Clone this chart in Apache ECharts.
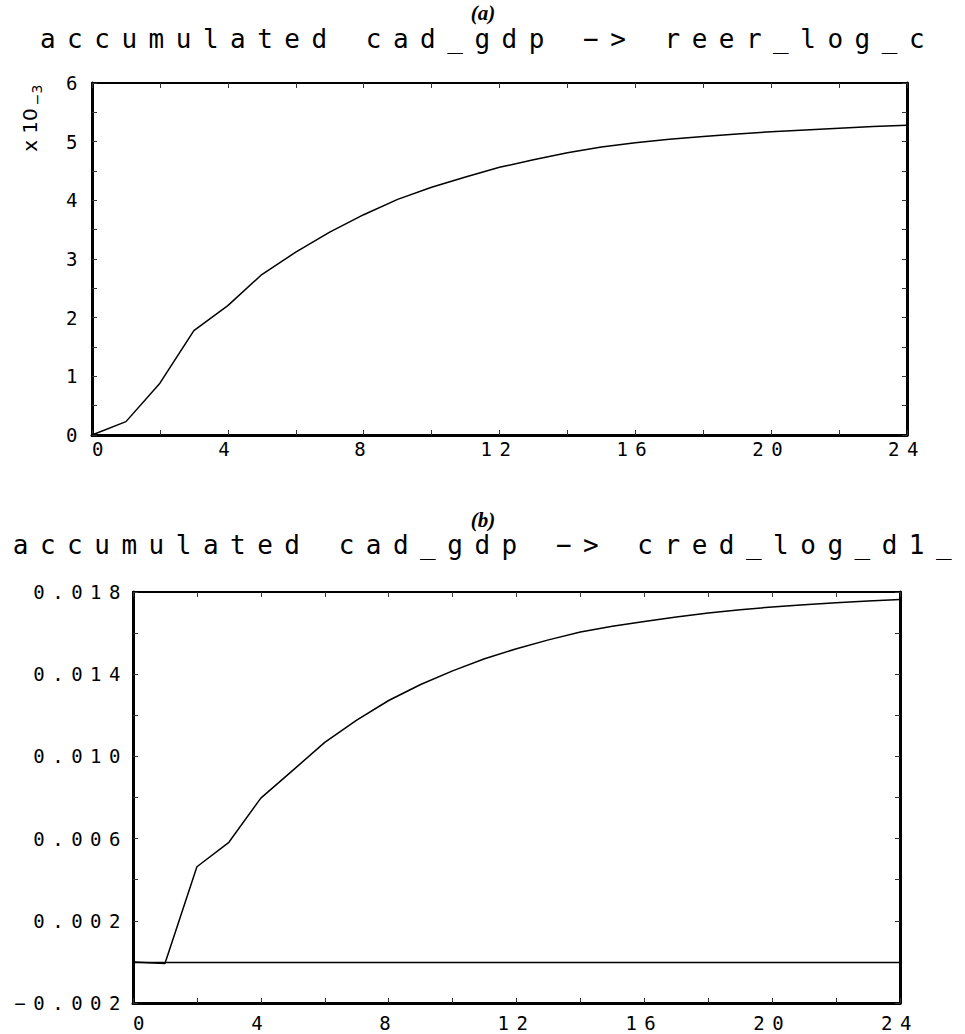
<!DOCTYPE html>
<html>
<head>
<meta charset="utf-8">
<script src="https://cdn.jsdelivr.net/npm/echarts@6.0.0/dist/echarts.min.js"></script>
<style>
    html, body { margin: 0; padding: 0; background: #fff; }
    #main { width: 965px; height: 1034px; }
    /* the plotter font is spread wide */
    #main text[style*="19px"] { letter-spacing: 7.5px; }
    #main text[style*="26px"] { letter-spacing: 11.5px; }
</style>
</head>
<body>
<div id="main"></div>
<script>
var steps = [0, 1, 2, 3, 4, 5, 6, 7, 8, 9, 10, 11, 12, 13, 14, 15, 16, 17, 18, 19, 20, 21, 22, 23, 24];
// (a) reer_log_c response, in units of 10^-3
var reerVals = [0, 0.228, 0.883, 1.78, 2.205, 2.735, 3.117, 3.459, 3.755, 4.017, 4.222, 4.399, 4.564,
    4.69, 4.81, 4.91, 4.98, 5.04, 5.09, 5.13, 5.17, 5.20, 5.23, 5.26, 5.28];
// (b) cred_log_d1_ response
var credVals = [0, -0.00008, 0.00463, 0.00582, 0.00797, 0.00932, 0.01068, 0.01176, 0.01272, 0.01350,
    0.01416, 0.01475, 0.01524, 0.01567, 0.01605, 0.01633, 0.01657, 0.01678, 0.01698, 0.01714,
    0.01727, 0.01738, 0.01748, 0.01756, 0.01763];
var xTickLabels = ['0', '4', '8', '12', '16', '20', '24'];
var reerTickLabels = ['0', '1', '2', '3', '4', '5', '6'];
var credTickLabels = ['\u22120.002', '0.002', '0.006', '0.010', '0.014', '0.018'];
var titleA = 'accumulated cad_gdp \u2212> reer_log_c';
var titleB = 'accumulated cad_gdp \u2212> cred_log_d1_';

var ink = '#000';
var monoFont = 'DejaVu Sans Mono';

function points(vals) {
    var out = [];
    for (var i = 0; i < steps.length; i++) {
        out.push([steps[i], vals[i]]);
    }
    return out;
}

function stepAxis(gridIndex, pos, lineW, margin) {
    return {
        type: 'value',
        gridIndex: gridIndex,
        position: pos,
        min: 0,
        max: 24,
        interval: 2,
        axisLine: {show: true, onZero: false, lineStyle: {color: ink, width: lineW}},
        axisTick: {show: true, inside: true, length: 5, lineStyle: {color: '#333', width: 1}},
        splitLine: {show: false},
        axisLabel: {
            show: pos == 'bottom',
            margin: margin,
            color: ink,
            fontFamily: monoFont,
            fontSize: 19,
            alignMinLabel: 'left',
            formatter: function (v) {
                var s = String(Math.round(v));
                return xTickLabels.indexOf(s) >= 0 ? s : '';
            }
        }
    };
}

function levelAxis(gridIndex, pos, min, max, interval, fmt, margin) {
    return {
        type: 'value',
        gridIndex: gridIndex,
        position: pos,
        min: min,
        max: max,
        interval: interval,
        axisLine: {show: true, onZero: false, lineStyle: {color: ink, width: 3}},
        axisTick: {show: true, inside: true, length: 5, lineStyle: {color: '#333', width: 1}},
        splitLine: {show: false},
        axisLabel: {
            show: pos == 'left',
            margin: margin,
            color: ink,
            fontFamily: monoFont,
            fontSize: 19,
            formatter: fmt
        }
    };
}

function reerLabel(v) {
    var s = String(Math.round(v));
    return (Math.abs(v - Math.round(v)) < 1e-6 && reerTickLabels.indexOf(s) >= 0) ? s : '';
}

function credLabel(v) {
    var s = v.toFixed(3).replace('-', '\u2212');
    return credTickLabels.indexOf(s) >= 0 ? s : '';
}

function panelTag(text, y) {
    return {
        type: 'text', x: 483, y: y,
        style: {
            text: text, fill: ink, font: 'italic bold 21px "Liberation Serif"',
            textAlign: 'center', textVerticalAlign: 'middle'
        }
    };
}

function heading(text, y) {
    return {
        type: 'text', x: 488, y: y,
        style: {
            text: text, fill: ink, fontSize: 26, fontFamily: monoFont,
            textAlign: 'center', textVerticalAlign: 'middle'
        }
    };
}

var Chart = echarts.init(document.getElementById('main'), null, {renderer: 'svg'});
var option_irf = {
    animation: false,
    backgroundColor: '#fff',
    grid: [
        {left: 92, right: 58, top: 83, height: 352},
        {left: 133, right: 65, top: 592, height: 411}
    ],
    xAxis: [
        stepAxis(0, 'bottom', 3, 4),
        stepAxis(0, 'top', 2, 4),
        stepAxis(1, 'bottom', 3, 10),
        stepAxis(1, 'top', 2, 10)
    ],
    yAxis: [
        levelAxis(0, 'left', 0, 6, 0.5, reerLabel, 7),
        levelAxis(0, 'right', 0, 6, 0.5, reerLabel, 7),
        levelAxis(1, 'left', -0.002, 0.018, 0.002, credLabel, 5),
        levelAxis(1, 'right', -0.002, 0.018, 0.002, credLabel, 5)
    ],
    graphic: [
        panelTag('(a)', 13),
        heading(titleA, 39),
        {
            type: 'text', x: 30, y: 130, rotation: Math.PI / 2,
            style: {text: 'x 10', fill: ink, fontSize: 20, fontFamily: 'DejaVu Sans', textAlign: 'center', textVerticalAlign: 'middle'}
        },
        {
            type: 'text', x: 37, y: 95, rotation: Math.PI / 2,
            style: {text: '\u22123', fill: ink, fontSize: 14, fontFamily: 'DejaVu Sans', textAlign: 'center', textVerticalAlign: 'middle'}
        },
        panelTag('(b)', 520),
        heading(titleB, 545)
    ],
    series: [
        {
            name: 'reer_log_c',
            type: 'line',
            xAxisIndex: 0,
            yAxisIndex: 0,
            data: points(reerVals),
            symbol: 'none',
            lineStyle: {color: ink, width: 1.5}
        },
        {
            name: 'cred_log_d1_',
            type: 'line',
            xAxisIndex: 2,
            yAxisIndex: 2,
            data: points(credVals),
            symbol: 'none',
            lineStyle: {color: ink, width: 1.5},
            markLine: {
                silent: true,
                symbol: ['none', 'none'],
                label: {show: false},
                lineStyle: {color: ink, width: 1.3, type: 'solid'},
                data: [{yAxis: 0}]
            }
        }
    ]
};
Chart.setOption(option_irf);
</script>
</body>
</html>
